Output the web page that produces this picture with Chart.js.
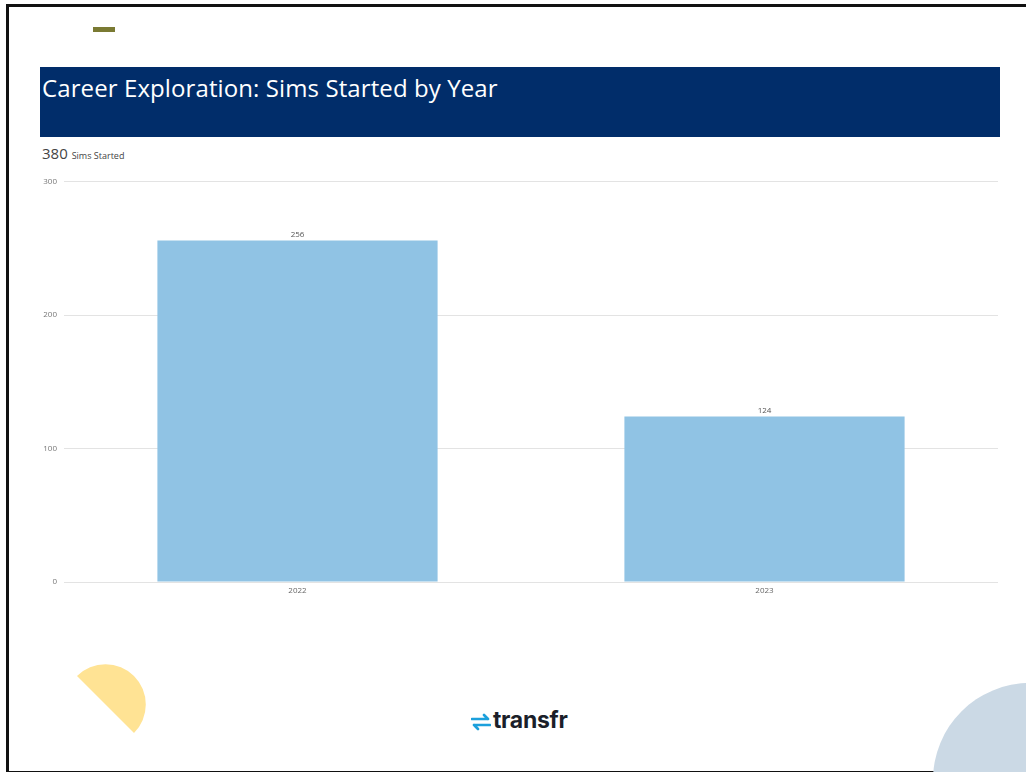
<!DOCTYPE html>
<html>
<head>
<meta charset="utf-8">
<script src="https://cdn.jsdelivr.net/npm/chart.js@4.4.0/dist/chart.umd.min.js"></script>
<style>
  html, body { margin: 0; padding: 0; background: #fff; }
  body { width: 1026px; height: 772px; position: relative; overflow: hidden; font-family: "Open Sans", sans-serif; }
  .frame { position: absolute; left: 6px; top: 4px; width: 1030px; height: 764px; border: 3px solid #111; box-sizing: content-box; }
  .dash { position: absolute; left: 93px; top: 27px; width: 22px; height: 5px; background: #7a7a33; }
  .titlebar { position: absolute; left: 40px; top: 67px; width: 960px; height: 70px; background: #012d6a; }
  .titlebar span { position: absolute; left: 2px; top: 4px; color: #fff; font-size: 24px; letter-spacing: 0.1px; }
  .total { position: absolute; left: 42px; top: 143px; color: #444; font-size: 15px; }
  .total small { font-size: 9px; }
  .chartbox { position: absolute; left: 30px; top: 170px; width: 975px; height: 433px; }
  .bluecircle { position: absolute; left: 933px; top: 683px; width: 194px; height: 194px; border-radius: 50%; background: #cbd9e5; }
  .logo { position: absolute; left: 471px; top: 706px; font-family: "Inter", sans-serif; font-weight: 700; font-size: 23px; color: #1b1f2a; letter-spacing: -0.3px; }
  .logo svg { vertical-align: -3px; margin-right: 2px; }
</style>
</head>
<body>
<div class="frame"></div>
<div class="dash"></div>
<div class="titlebar"><span>Career Exploration: Sims Started by Year</span></div>
<div class="total">380 <small>Sims Started</small></div>
<div class="chartbox"><canvas id="chart"></canvas></div>
<svg viewBox="0 0 80 80" style="left:65px;top:664px;position:absolute;width:80px;height:80px;overflow:visible">
  <path d="M 12 12 A 40.3 40.3 0 0 1 69 69 Z" fill="#ffe394"/>
</svg>
<div class="bluecircle"></div>
<div class="logo"><svg width="20" height="18" viewBox="0 0 20 18">
  <path d="M1 6 H17 M13 2 L17 6" stroke="#1ca0dc" stroke-width="2.6" fill="none" stroke-linecap="round"/>
  <path d="M19 12 H3 M7 16 L3 12" stroke="#1ca0dc" stroke-width="2.6" fill="none" stroke-linecap="round"/>
</svg>transfr</div>
<script>
const years = ["2022", "2023"];
const simsStarted = [256, 124];
const yTicks = [0, 100, 200, 300];

// draws the value above each bar
const valueLabels = {
  id: "valueLabels",
  afterDatasetsDraw(chart) {
    const ctx = chart.ctx;
    const meta = chart.getDatasetMeta(0);
    ctx.save();
    ctx.font = "8px 'Open Sans', sans-serif";
    ctx.fillStyle = "#555";
    ctx.textAlign = "center";
    ctx.textBaseline = "bottom";
    meta.data.forEach((bar, i) => {
      ctx.fillText(simsStarted[i], bar.x, bar.y - 2);
    });
    ctx.restore();
  }
};

new Chart(document.getElementById("chart"), {
  type: "bar",
  data: {
    labels: years,
    datasets: [{
      data: simsStarted,
      backgroundColor: "#90c3e4",
      barPercentage: 0.6,
      categoryPercentage: 1.0
    }]
  },
  options: {
    responsive: true,
    maintainAspectRatio: false,
    animation: false,
    layout: { padding: { top: 10, right: 7 } },
    plugins: { legend: { display: false }, tooltip: { enabled: false } },
    scales: {
      x: {
        grid: { display: false, drawTicks: false },
        border: { display: false },
        ticks: { color: "#666", font: { size: 8, family: "Open Sans" }, padding: 4 },
        afterFit(scale) { scale.height = 21; }
      },
      y: {
        min: 0,
        max: 300,
        afterBuildTicks(scale) { scale.ticks = yTicks.map(v => ({ value: v })); },
        grid: { color: "#e3e3e3", drawTicks: false },
        border: { display: false },
        ticks: { color: "#777", font: { size: 8, family: "Open Sans" }, padding: 7 },
        afterFit(scale) { scale.width = 34; }
      }
    }
  },
  plugins: [valueLabels]
});
</script>
</body>
</html>
